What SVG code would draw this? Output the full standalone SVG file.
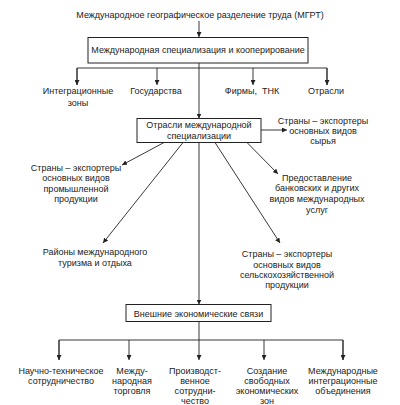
<svg xmlns="http://www.w3.org/2000/svg" width="400" height="405" viewBox="0 0 400 405">
<defs>
<marker id="ah" viewBox="0 0 10 10" refX="10" refY="5" markerWidth="5" markerHeight="5" orient="auto" markerUnits="userSpaceOnUse"><path d="M0,0 L10,5 L0,10 z" fill="#222"/></marker>
<style>
text{font-family:"Liberation Sans",Arial,sans-serif;font-size:9px;fill:#222;text-anchor:middle}
.box{fill:#fff;stroke:#222;stroke-width:1}
.c line,.c path{stroke:#222;stroke-width:0.9;fill:none}
.a{marker-end:url(#ah)}
</style>
</defs>
<rect width="400" height="405" fill="#fff"/>
<g id="connectors" class="c">
<line class="a" x1="199" y1="21" x2="199" y2="37"/>
<line class="a" x1="199" y1="63" x2="199" y2="118.5"/>
<path d="M77,85 V68 H327 V85"/>
<line class="a" x1="77" y1="68" x2="77" y2="85"/>
<line class="a" x1="157" y1="68" x2="157" y2="85"/>
<line class="a" x1="253" y1="68" x2="253" y2="85"/>
<line class="a" x1="327" y1="68" x2="327" y2="85"/>
<line class="a" x1="261" y1="130" x2="287" y2="130"/>
<line class="a" x1="164" y1="142.5" x2="122" y2="165"/>
<line class="a" x1="247" y1="142.5" x2="278" y2="174"/>
<line class="a" x1="183" y1="142.5" x2="103" y2="243"/>
<line class="a" x1="215" y1="142.5" x2="280" y2="243"/>
<line class="a" x1="199" y1="142.5" x2="199" y2="304.5"/>
<path d="M199,321.5 V340 M59,360 V340 H343 V360"/>
<line class="a" x1="59" y1="340" x2="59" y2="360"/>
<line class="a" x1="129" y1="340" x2="129" y2="360"/>
<line class="a" x1="199" y1="340" x2="199" y2="360"/>
<line class="a" x1="264" y1="340" x2="264" y2="360"/>
<line class="a" x1="343" y1="340" x2="343" y2="360"/>
</g>
<g id="mgrt"><text x="200" y="18">Международное географическое разделение труда (МГРТ)</text></g>
<g id="spec"><rect class="box" x="88" y="37.5" width="220" height="25.5"/><text x="198" y="53">Международная специализация и кооперирование</text></g>
<g id="zones"><text x="78" y="94">Интеграционные</text><text x="78" y="105.5">зоны</text></g>
<g id="states"><text x="156" y="94">Государства</text></g>
<g id="firms"><text x="252" y="94">Фирмы,&#160; ТНК</text></g>
<g id="branches"><text x="326" y="94">Отрасли</text></g>
<g id="spec-branches"><rect class="box" x="137" y="118.5" width="124" height="24"/><text x="199" y="128">Отрасли международной</text><text x="199" y="139">специализации</text></g>
<g id="raw"><text x="323" y="124">Страны – экспортеры</text><text x="323" y="134">основных видов</text><text x="323" y="144">сырья</text></g>
<g id="industrial"><text x="76" y="170.5">Страны – экспортеры</text><text x="76" y="181">основных видов</text><text x="76" y="191.5">промышленной</text><text x="76" y="202">продукции</text></g>
<g id="services"><text x="317" y="180.5">Предоставление</text><text x="317" y="191">банковских и других</text><text x="317" y="201.5">видов международных</text><text x="317" y="212.5">услуг</text></g>
<g id="tourism"><text x="95" y="255">Районы международного</text><text x="95" y="265.5">туризма и отдыха</text></g>
<g id="agri"><text x="287" y="257">Страны – экспортеры</text><text x="287" y="267.5">основных видов</text><text x="287" y="278">сельскохозяйственной</text><text x="287" y="288">продукции</text></g>
<g id="external"><rect class="box" x="126" y="304.5" width="145" height="17"/><text x="198.5" y="317">Внешние экономические связи</text></g>
<g id="scitech"><text x="61" y="374">Научно-техническое</text><text x="61" y="384">сотрудничество</text></g>
<g id="trade"><text x="132" y="374">Между-</text><text x="132" y="384">народная</text><text x="132" y="394">торговля</text></g>
<g id="production"><text x="195" y="374">Производст-</text><text x="195" y="384">венное</text><text x="195" y="394">сотрудни-</text><text x="195" y="403.5">чество</text></g>
<g id="fez"><text x="267" y="374">Создание</text><text x="267" y="384">свободных</text><text x="267" y="394">экономических</text><text x="267" y="403.5">зон</text></g>
<g id="integration"><text x="343" y="374">Международные</text><text x="343" y="384">интеграционные</text><text x="343" y="394">объединения</text></g>
</svg>
